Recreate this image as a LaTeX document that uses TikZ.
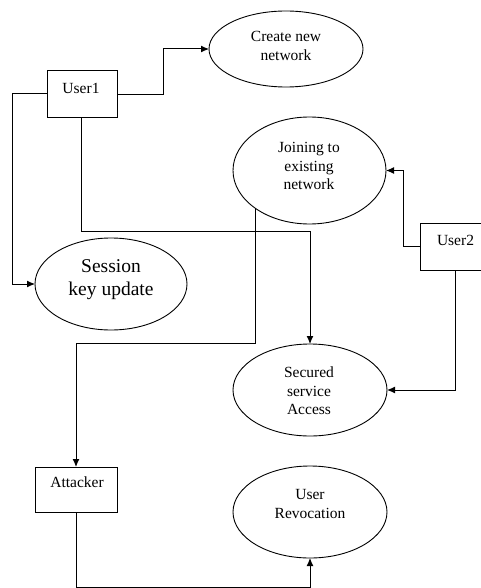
\documentclass[tikz,border=0pt]{standalone}
\usepackage{fontspec}
\setmainfont{Liberation Serif}
\usetikzlibrary{shapes.geometric,arrows.meta}
\begin{document}
\begin{tikzpicture}[x=1pt,y=-1pt,
  box/.style={draw, line width=1pt, rectangle, inner sep=0pt, outer sep=0pt},
  oval/.style={draw, line width=0.9pt, ellipse, inner sep=0pt, outer sep=0pt},
  txt/.style={align=center, font=\fontsize{15.5}{18.5}\selectfont, inner sep=0pt},
  bigtxt/.style={align=center, font=\fontsize{19.5}{23}\selectfont, inner sep=0pt},
  arr/.style={line width=1pt, -{Latex[length=8pt,width=7pt]}},
  ln/.style={line width=1pt}]
\useasboundingbox (0,0) rectangle (480,588);
% boxes
\node[box, minimum width=70pt, minimum height=47pt] (user1) at (82,94.5) {};
\node[txt] (user1t) at (81,88) {User1};
\node[box, minimum width=71pt, minimum height=47pt] (user2) at (455.5,246.5) {};
\node[txt] (user2t) at (455.5,240) {User2};
\node[box, minimum width=82pt, minimum height=45pt] (attacker) at (76,489.5) {};
\node[txt] (attackert) at (77,482) {Attacker};
% ellipses
\node[oval, minimum width=154pt, minimum height=76pt] (create) at (286,49) {};
\node[txt] (createt) at (286,46) {Create new\\network};
\node[oval, minimum width=153pt, minimum height=107pt] (join) at (309.5,170.5) {};
\node[txt] (joint) at (309,166) {Joining to\\existing\\network};
\node[oval, minimum width=152pt, minimum height=92pt] (session) at (111,284) {};
\node[bigtxt] (sessiont) at (111,280) {Session\\key update};
\node[oval, minimum width=154pt, minimum height=92pt] (secured) at (310,390) {};
\node[txt] (securedt) at (309,391) {Secured\\service\\Access};
\node[oval, minimum width=154pt, minimum height=92pt] (revoc) at (310,512) {};
\node[txt] (revoct) at (310,504) {User\\Revocation};
% connectors
\draw[arr] (user1.east) -- ++(46,0) |- (create.west);
\draw[arr] (user1.west |- 0,94) -- ++(-35,0) |- (session.west);
\draw[arr] (user1.south -| 81,0) -- ++(0,113) -| (secured.north);
\draw[arr] (join.south west) -- ++(0,135) -| (attacker.north);
\draw[arr] (user2.west) -- ++(-17,0) |- (join.east);
\draw[arr] (user2.south) |- (secured.east);
\draw[arr] (attacker.south) -- ++(0,75) -| (revoc.south);
\end{tikzpicture}
\end{document}
